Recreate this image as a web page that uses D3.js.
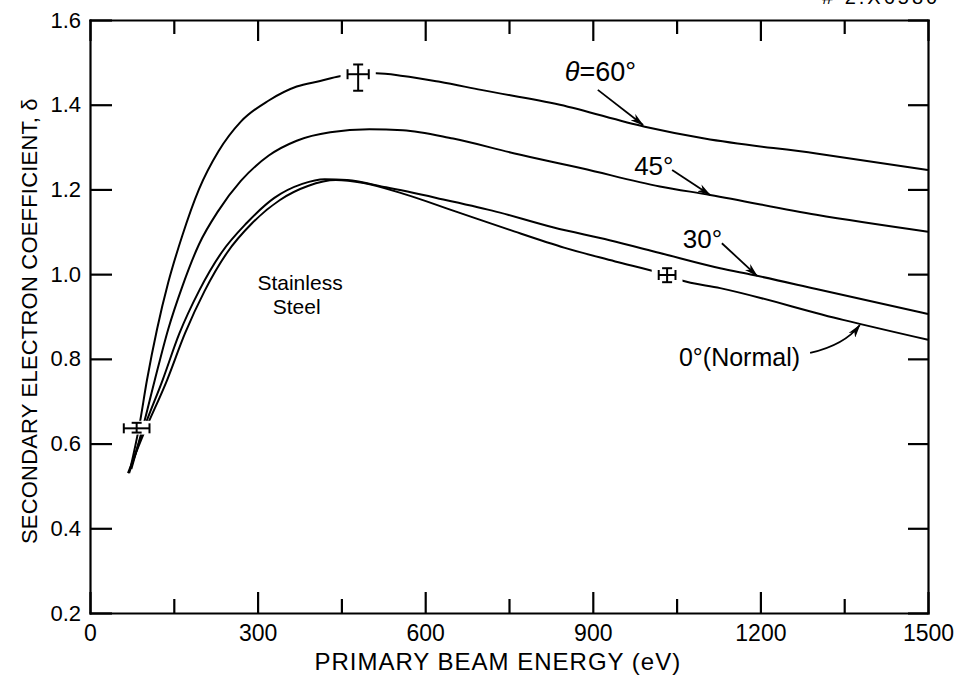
<!DOCTYPE html>
<meta charset="utf-8">
<title>Secondary electron coefficient - stainless steel</title>
<style>
body {
  margin: 0;
  background: #fff;
}
svg {
  display: block;
  font-family: "Liberation Sans", Arial, sans-serif;
}
.axis path, .axis line {
  stroke: #000;
  stroke-width: 2.2px;
}
.axis text {
  font-family: "Liberation Sans", Arial, sans-serif;
  fill: #000;
}
.curve {
  fill: none;
  stroke: #000;
  stroke-width: 2px;
}
.err line {
  stroke: #000;
  stroke-width: 2px;
}
.arrow {
  fill: none;
  stroke: #000;
  stroke-width: 1.8px;
}
.label {
  fill: #000;
}
</style>
<body>
<script src="https://cdn.jsdelivr.net/npm/d3@7"></script>
<script>

// tick values
var xMajor = [0, 300, 600, 900, 1200, 1500];
var xMinor = [150, 450, 750, 1050, 1350];
var yTicks = [0.2, 0.4, 0.6, 0.8, 1.0, 1.2, 1.4, 1.6];

// curves: energy (eV) and yield delta
var e60 = [72, 88, 102, 120, 140, 165, 195, 230, 270, 320, 370, 412, 447, 480, 512, 560, 626, 700, 841, 993, 1100, 1300, 1500];
var d60 = [0.54, 0.64, 0.75, 0.87, 0.98, 1.09, 1.20, 1.29, 1.36, 1.41, 1.443, 1.456, 1.467, 1.472, 1.474, 1.468, 1.454, 1.435, 1.40, 1.348, 1.32, 1.285, 1.246];

var e45 = [74, 95, 116, 140, 165, 195, 230, 270, 320, 370, 430, 500, 560, 650, 760, 880, 1020, 1110, 1300, 1500];
var d45 = [0.54, 0.64, 0.75, 0.87, 0.97, 1.07, 1.15, 1.22, 1.28, 1.315, 1.335, 1.342, 1.34, 1.32, 1.285, 1.25, 1.207, 1.187, 1.14, 1.10];

var e30 = [70, 95, 130, 160, 195, 235, 280, 330, 380, 420, 460, 530, 620, 720, 830, 930, 1020, 1128, 1187, 1300, 1500];
var d30 = [0.53, 0.63, 0.75, 0.86, 0.96, 1.05, 1.12, 1.18, 1.213, 1.224, 1.222, 1.205, 1.18, 1.15, 1.11, 1.08, 1.05, 1.014, 0.998, 0.965, 0.906];

var e0 = [68, 95, 138, 170, 205, 245, 290, 340, 390, 440, 490, 560, 650, 750, 850, 940, 1031, 1056, 1128, 1348, 1500];
var d0 = [0.53, 0.62, 0.75, 0.86, 0.96, 1.05, 1.12, 1.175, 1.208, 1.222, 1.215, 1.19, 1.15, 1.105, 1.062, 1.03, 0.998, 0.986, 0.967, 0.892, 0.845];

// measured points with error bars
var errE  = [83.5, 480, 1033];
var errDE = [23, 19, 15];
var errD  = [0.636, 1.472, 0.998];
var errLo = [0.626, 1.433, 0.981];
var errHi = [0.649, 1.495, 1.014];

var width = 965,
    height = 676,
    margin = {top: 20, right: 37, bottom: 63, left: 90};

var x = d3.scaleLinear()
    .domain([0, 1500])
    .range([margin.left, width - margin.right]);

var y = d3.scaleLinear()
    .domain([0.2, 1.6])
    .range([height - margin.bottom, margin.top]);

var svg = d3.select("body").append("svg")
    .attr("width", width)
    .attr("height", height);

var defs = svg.append("defs");
defs.append("marker")
    .attr("id", "head")
    .attr("viewBox", "0 0 14 8")
    .attr("refX", 13)
    .attr("refY", 4)
    .attr("markerWidth", 14)
    .attr("markerHeight", 8)
    .attr("markerUnits", "userSpaceOnUse")
    .attr("orient", "auto")
  .append("path")
    .attr("d", "M0,0 L14,4 L0,8 L4,4 Z")
    .attr("fill", "#000");

var xTicks = xMajor.concat(xMinor).sort(d3.ascending);
function tickLen(d) { return xMajor.indexOf(d) >= 0 ? 21 : 14; }

// bottom axis
var gx = svg.append("g")
    .attr("class", "axis")
    .attr("transform", "translate(0," + y.range()[0] + ")")
    .call(d3.axisBottom(x)
      .tickValues(xTicks)
      .tickSizeInner(-21)
      .tickSizeOuter(0)
      .tickPadding(12)
      .tickFormat(function(d) { return xMajor.indexOf(d) >= 0 ? d : ""; }));
gx.selectAll(".tick line").attr("y2", function(d) { return -tickLen(d); });
gx.selectAll(".tick text").style("font-size", "23px");

// top axis
var gt = svg.append("g")
    .attr("class", "axis")
    .attr("transform", "translate(0," + y.range()[1] + ")")
    .call(d3.axisTop(x)
      .tickValues(xTicks)
      .tickSizeInner(-21)
      .tickSizeOuter(0)
      .tickFormat(""));
gt.selectAll(".tick line").attr("y2", function(d) { return tickLen(d); });

// left axis
var gy = svg.append("g")
    .attr("class", "axis")
    .attr("transform", "translate(" + x.range()[0] + ",0)")
    .call(d3.axisLeft(y)
      .tickValues(yTicks)
      .tickSizeInner(-22)
      .tickSizeOuter(0)
      .tickPadding(9)
      .tickFormat(d3.format(".1f")));
gy.selectAll(".tick text").style("font-size", "22px");

// right axis
svg.append("g")
    .attr("class", "axis")
    .attr("transform", "translate(" + x.range()[1] + ",0)")
    .call(d3.axisRight(y)
      .tickValues(yTicks)
      .tickSizeInner(-20)
      .tickSizeOuter(0)
      .tickFormat(""));

svg.selectAll(".axis .domain").attr("stroke-linecap", "square");

// axis titles
svg.append("text")
    .attr("class", "label")
    .attr("x", x(730))
    .attr("y", height - 6)
    .attr("text-anchor", "middle")
    .style("font-size", "24px")
    .style("letter-spacing", "1px")
    .text("PRIMARY BEAM ENERGY (eV)");

svg.append("text")
    .attr("class", "label")
    .attr("transform", "translate(37," + y(0.889) + ") rotate(-90)")
    .attr("text-anchor", "middle")
    .style("font-size", "22px")
    .style("letter-spacing", "0.2px")
    .text("SECONDARY ELECTRON COEFFICIENT, \u03b4");

// curves
var line = d3.line()
    .x(function(d) { return x(d[0]); })
    .y(function(d) { return y(d[1]); })
    .curve(d3.curveMonotoneX);

[[e60, d60], [e45, d45], [e30, d30], [e0, d0]].forEach(function(c) {
  svg.append("path")
      .attr("class", "curve")
      .attr("d", line(d3.zip(c[0], c[1])));
});

// error bars, with a white patch that breaks the curve under them
var err = svg.selectAll(".err")
    .data(errE.map(function(e, i) {
      return {e: e, de: errDE[i], d: errD[i], lo: errLo[i], hi: errHi[i]};
    }))
  .enter().append("g")
    .attr("class", "err");

err.append("rect")
    .attr("x", function(d) { return x(d.e - d.de) - 7; })
    .attr("width", function(d) { return x(d.e + d.de) - x(d.e - d.de) + 14; })
    .attr("y", function(d) { return y(d.hi) - 2; })
    .attr("height", function(d) { return y(d.lo) - y(d.hi) + 4; })
    .attr("fill", "#fff");

err.append("line")
    .attr("x1", function(d) { return x(d.e - d.de); })
    .attr("x2", function(d) { return x(d.e + d.de); })
    .attr("y1", function(d) { return y(d.d); })
    .attr("y2", function(d) { return y(d.d); });
err.append("line")
    .attr("x1", function(d) { return x(d.e); })
    .attr("x2", function(d) { return x(d.e); })
    .attr("y1", function(d) { return y(d.hi); })
    .attr("y2", function(d) { return y(d.lo); });
[-1, 1].forEach(function(s) {
  err.append("line")
      .attr("x1", function(d) { return x(d.e + s * d.de); })
      .attr("x2", function(d) { return x(d.e + s * d.de); })
      .attr("y1", function(d) { return y(d.d) - 5; })
      .attr("y2", function(d) { return y(d.d) + 5; });
  err.append("line")
      .attr("x1", function(d) { return x(d.e) - 5; })
      .attr("x2", function(d) { return x(d.e) + 5; })
      .attr("y1", function(d) { return s < 0 ? y(d.hi) : y(d.lo); })
      .attr("y2", function(d) { return s < 0 ? y(d.hi) : y(d.lo); });
});

// curve labels and arrows (positions in data units)
var t60 = svg.append("text")
    .attr("class", "label")
    .attr("x", x(850))
    .attr("y", y(1.456))
    .style("font-size", "27px");
t60.append("tspan").style("font-style", "italic").text("\u03b8");
t60.append("tspan").text("=60\u00b0");

svg.append("text")
    .attr("class", "label")
    .attr("x", x(974))
    .attr("y", y(1.234))
    .style("font-size", "26px")
    .text("45\u00b0");

svg.append("text")
    .attr("class", "label")
    .attr("x", x(1061))
    .attr("y", y(1.062))
    .style("font-size", "26px")
    .text("30\u00b0");

svg.append("text")
    .attr("class", "label")
    .attr("x", x(1271))
    .attr("y", y(0.783))
    .attr("text-anchor", "end")
    .style("font-size", "25px")
    .text("0\u00b0(Normal)");

var arrows = [
  [[909, 1.435], [990, 1.352]],
  [[1042, 1.246], [1110, 1.187]],
  [[1131, 1.073], [1194, 0.996]]
];
arrows.forEach(function(a) {
  svg.append("path")
      .attr("class", "arrow")
      .attr("marker-end", "url(#head)")
      .attr("d", "M" + x(a[0][0]) + "," + y(a[0][1]) + "L" + x(a[1][0]) + "," + y(a[1][1]));
});

svg.append("path")
    .attr("class", "arrow")
    .attr("marker-end", "url(#head)")
    .attr("d", "M" + x(1289) + "," + y(0.814) +
               "Q" + x(1351) + "," + y(0.833) + " " + x(1378) + "," + y(0.880));

var ss = svg.append("text")
    .attr("class", "label")
    .attr("text-anchor", "middle")
    .style("font-size", "21px");
ss.append("tspan").attr("x", x(376)).attr("y", y(0.963)).text("Stainless");
ss.append("tspan").attr("x", x(370)).attr("y", y(0.906)).text("Steel");

// drawing number, cut off at the top edge of the scan
svg.append("text")
    .attr("x", 822)
    .attr("y", 4)
    .style("font-size", "20px")
    .style("letter-spacing", "3px")
    .text("# 2.X6580");

</script>
</body>
